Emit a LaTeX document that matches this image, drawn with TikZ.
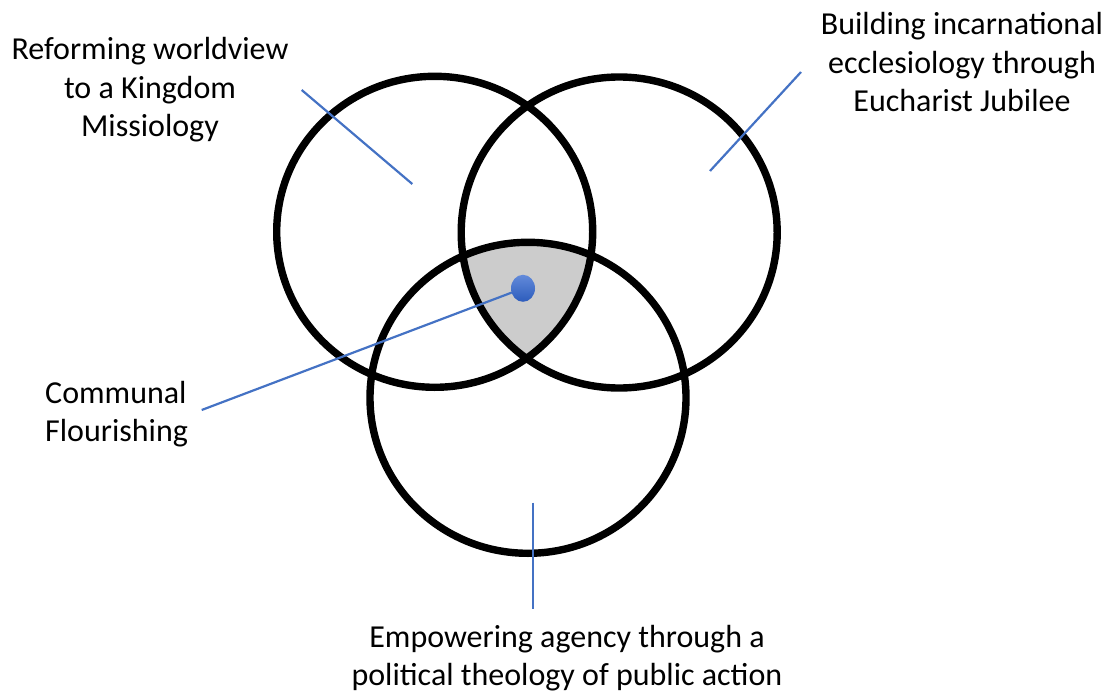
\documentclass[tikz,border=0pt]{standalone}
\usepackage{fontspec}
\setmainfont{Carlito}
\usetikzlibrary{shapes.geometric}
\definecolor{leadblue}{RGB}{68,114,196}
\definecolor{dottop}{RGB}{98,138,218}
\definecolor{dotbottom}{RGB}{45,92,188}
\definecolor{coregray}{RGB}{204,204,204}

\begin{document}
\begin{tikzpicture}[x=1pt, y=-1pt,
  ring/.style={line width=7.4pt},
  lead/.style={leadblue, line width=2.2pt},
  venntext/.style={align=center, inner sep=0pt, anchor=base, font=\fontsize{32}{38.6}\selectfont}]
\useasboundingbox (0,0) rectangle (1114,693);

% Define circle centres
\coordinate (kingdom) at (434.7,231.8);
\coordinate (church) at (619.2,232.5);
\coordinate (public) at (528,397.8);

% Shade the common region
\begin{scope}
\clip (kingdom) ellipse [x radius=158, y radius=155.5];
\clip (church) ellipse [x radius=158, y radius=155.5];
\fill[coregray] (public) ellipse [x radius=158, y radius=155.5];
\end{scope}

% Draw circles
\draw[ring] (kingdom) ellipse [x radius=158, y radius=155.5];
\draw[ring] (church) ellipse [x radius=158, y radius=155.5];
\draw[ring] (public) ellipse [x radius=158, y radius=155.5];

% Define nodes (base = last line)
\node[ellipse, minimum width=24pt, minimum height=27pt, inner sep=0pt,
  top color=dottop, bottom color=dotbottom] (core) at (523,288.3) {};
\node[venntext] (reform) at (150,136.7) {Reforming worldview\\to a Kingdom\\Missiology};
\node[venntext] (incarn) at (962,111.7) {Building incarnational\\ecclesiology through\\Eucharist Jubilee};
\node[venntext, align=left, anchor=base west] (communal) at (45,441.7) {Communal\\Flourishing};
\node[venntext] (empower) at (567,685.7) {Empowering agency through a\\political theology of public action};

% Leader line ends
\coordinate (reformIn) at (412.3,184);
\coordinate (reformOut) at (301.7,90);
\coordinate (incarnIn) at (710,171);
\coordinate (incarnOut) at (801,72);
\coordinate (publicIn) at (533.3,502.7);
\coordinate (publicOut) at (533.3,609);
\coordinate (communalOut) at (201.7,410);

% Draw leader lines
\draw[lead] (reformOut) -- (reformIn);
\draw[lead] (incarnOut) -- (incarnIn);
\draw[lead] (publicIn) -- (publicOut);
\draw[lead] (communalOut) -- (core);
\end{tikzpicture}
\end{document}
